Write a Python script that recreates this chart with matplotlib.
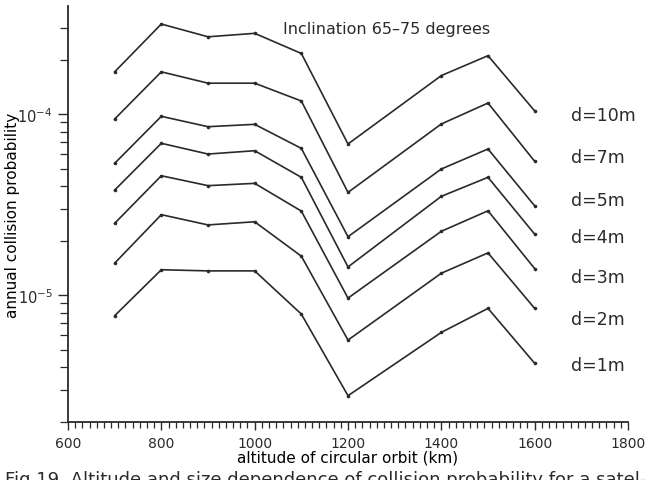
import matplotlib
matplotlib.use('Agg')
import matplotlib.pyplot as plt
import numpy as np
from matplotlib.ticker import FixedLocator, LogLocator, NullFormatter

plt.rcParams.update({
    'font.family': 'DejaVu Sans',
    'font.size': 11,
    'mathtext.fontset': 'dejavusans',
    'text.color': '#2a2a2a',
    'axes.edgecolor': '#2a2a2a',
    'xtick.color': '#2a2a2a',
    'ytick.color': '#2a2a2a',
})

INK = '#2a2a2a'

# altitude of circular orbit (km)
altitude = [700, 800, 900, 1000, 1100, 1200, 1400, 1500, 1600]

# annual collision probability per object diameter
p_10m = [1.71e-4, 3.14e-4, 2.67e-4, 2.79e-4, 2.16e-4, 6.83e-5, 1.63e-4, 2.10e-4, 1.04e-4]
p_7m  = [9.38e-5, 1.71e-4, 1.48e-4, 1.48e-4, 1.18e-4, 3.69e-5, 8.81e-5, 1.15e-4, 5.48e-5]
p_5m  = [5.34e-5, 9.71e-5, 8.51e-5, 8.77e-5, 6.46e-5, 2.10e-5, 4.97e-5, 6.41e-5, 3.11e-5]
p_4m  = [3.80e-5, 6.89e-5, 6.01e-5, 6.27e-5, 4.47e-5, 1.43e-5, 3.51e-5, 4.47e-5, 2.17e-5]
p_3m  = [2.49e-5, 4.56e-5, 4.02e-5, 4.14e-5, 2.91e-5, 9.62e-6, 2.25e-5, 2.92e-5, 1.40e-5]
p_2m  = [1.50e-5, 2.78e-5, 2.44e-5, 2.54e-5, 1.64e-5, 5.64e-6, 1.32e-5, 1.71e-5, 8.44e-6]
p_1m  = [7.69e-6, 1.38e-5, 1.36e-5, 1.36e-5, 7.85e-6, 2.78e-6, 6.22e-6, 8.44e-6, 4.20e-6]

series = [p_10m, p_7m, p_5m, p_4m, p_3m, p_2m, p_1m]
size_labels = ['d=10m', 'd=7m', 'd=5m', 'd=4m', 'd=3m', 'd=2m', 'd=1m']

fig = plt.figure(figsize=(6.46, 4.81), dpi=100)
ax = fig.add_axes([68 / 646, 1 - 423 / 481, 560 / 646, 416 / 481])

for vals in series:
    ax.plot(altitude, vals, color=INK, linewidth=1.2, marker='o', markersize=2.6,
            markerfacecolor=INK, markeredgewidth=0)

ax.set_yscale('log')
ax.set_xlim(600, 1800)
ax.set_ylim(1.99e-6, 3.95e-4)

for s in ['top', 'right']:
    ax.spines[s].set_visible(False)
ax.spines['left'].set_linewidth(1.3)
ax.spines['bottom'].set_linewidth(1.3)

# y axis: decades labelled, minor ticks outward
ax.yaxis.set_major_locator(FixedLocator([1e-5, 1e-4]))
ax.set_yticklabels([r'$10^{-5}$', r'$10^{-4}$'], fontsize=10.5)
ax.yaxis.set_minor_locator(LogLocator(base=10, subs=np.arange(2, 10)))
ax.yaxis.set_minor_formatter(NullFormatter())
ax.tick_params(axis='y', which='major', length=7, width=1.0, pad=4)
ax.tick_params(axis='y', which='minor', length=6, width=0.9)

# x axis: labelled every 200 km, fine ticks between
ax.xaxis.set_major_locator(FixedLocator(np.arange(600, 1801, 200)))
ax.xaxis.set_minor_locator(FixedLocator(np.arange(600, 1800.1, 200 / 13)))
ax.tick_params(axis='x', which='major', length=6, width=1.0, pad=4, labelsize=10)
ax.tick_params(axis='x', which='minor', length=4, width=0.9)

ax.set_xlabel('altitude of circular orbit (km)', fontsize=11, labelpad=0)
ax.set_ylabel('annual collision probability', fontsize=11)
ax.yaxis.set_label_coords(-0.085, 0.5)

ax.text(0.384, 0.945, 'Inclination 65\u201375 degrees', transform=ax.transAxes,
        fontsize=11.5, va='center', ha='left')

label_y = [0.738, 0.637, 0.534, 0.445, 0.349, 0.248, 0.137]
for lab, yy in zip(size_labels, label_y):
    ax.text(0.898, yy, lab, transform=ax.transAxes, fontsize=12.5, va='center', ha='left')

fig.text(0.008, 1 - 471 / 481,
         'Fig.19  Altitude and size dependence of collision probability for a satel-',
         fontsize=13, va='top', ha='left')

fig.savefig('out.png', dpi=100)
